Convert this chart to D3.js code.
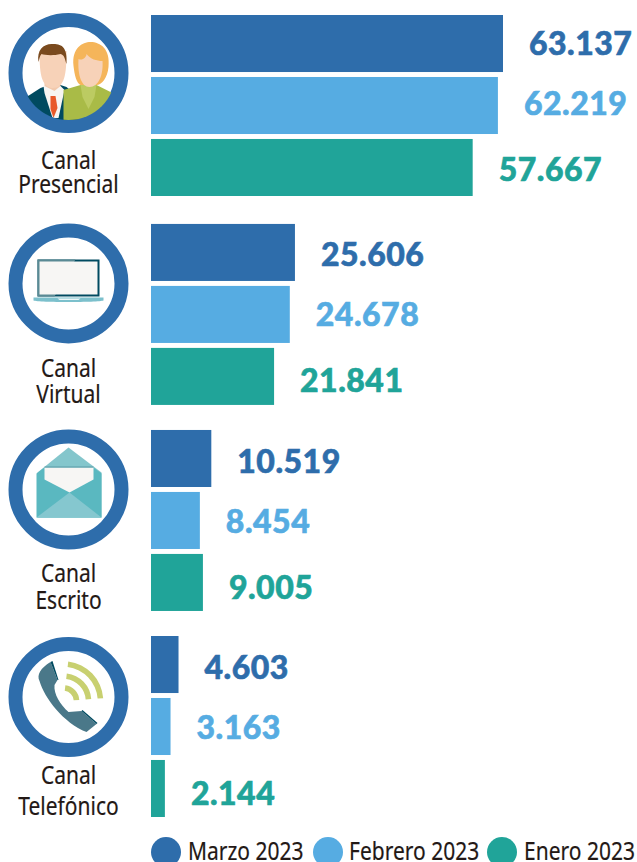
<!DOCTYPE html>
<html>
<head>
<meta charset="utf-8">
<script src="https://cdn.jsdelivr.net/npm/d3@7"></script>
<style>
	html, body { margin: 0; padding: 0; background: #fff; overflow: hidden; }
	svg { display: block; }
	.canal-label, .legend-label { font-family: "Noto Sans", sans-serif; fill: #231815; stroke: #231815; stroke-width: 0.2px; }
	.value-label { font-family: Lato, sans-serif; font-weight: 900; letter-spacing: 0.5px; stroke-width: 0.6px; }
</style>
</head>
<body>
<div id="chart-container"></div>
<script>
var canales = ['Presencial', 'Virtual', 'Escrito', 'Telefónico'];
var meses = ['Marzo 2023', 'Febrero 2023', 'Enero 2023'];
var colores = ['#2e6dab', '#56ace2', '#20a499'];

var marzo = [63137, 25606, 10519, 4603];
var febrero = [62219, 24678, 8454, 3163];
var enero = [57667, 21841, 9005, 2144];

var series = [marzo, febrero, enero];

var svg_width = 637;
var svg_height = 862;
var bar_left = 151;
var narrow = 0.84;

var svg = d3.select('#chart-container')
	.append('svg')
	.attr('width', svg_width)
	.attr('height', svg_height);

var x = d3.scaleLinear()
	.domain([0, 63137])
	.range([bar_left + 2, 503]);

var y_group = d3.scaleBand()
	.domain(canales)
	.range([15, 818])
	.paddingInner(0.127);

var y_bar = d3.scaleBand()
	.domain(meses)
	.range([0, y_group.bandwidth()])
	.paddingInner(0.08);

var format_value = d3.formatLocale({ decimal: ',', thousands: '.', grouping: [3], currency: ['', ''] }).format(',d');

// the printed groups are not evenly spaced, nor the labels on the bar centres
var group_nudge = { 'Presencial': 0, 'Virtual': 1.6, 'Escrito': 0.3, 'Telefónico': -1 };
var value_nudge = { 'Presencial': -0.5, 'Virtual': 2, 'Escrito': 2.5, 'Telefónico': 2.5 };
var icon_nudge = { 'Presencial': -1.5, 'Virtual': 0, 'Escrito': 0, 'Telefónico': 1.5 };
var value_shift = [1, -1, 3];
var label_base = { 'Presencial': [154, 178], 'Virtual': [153, 179], 'Escrito': [152, 179], 'Telefónico': [148, 179] };

function group_top(c) {
	return y_group(c) + group_nudge[c];
}

// bars and values
meses.forEach(function(mes, m) {
	var g = svg.append('g').attr('class', 'serie');
	var rows = canales.map(function(c, i) { return { canal: c, value: series[m][i] }; });

	g.selectAll('rect')
		.data(rows)
		.enter()
		.append('rect')
		.attr('x', bar_left)
		.attr('y', function(d) { return group_top(d.canal) + y_bar(mes); })
		.attr('width', function(d) { return x(d.value) - bar_left; })
		.attr('height', y_bar.bandwidth())
		.attr('fill', colores[m]);

	g.selectAll('text')
		.data(rows)
		.enter()
		.append('text')
		.attr('class', 'value-label')
		.attr('x', function(d) { return x(d.value) + 26; })
		.attr('y', function(d) {
			return group_top(d.canal) + y_bar(mes) + y_bar.bandwidth() / 2 + value_shift[m] + value_nudge[d.canal] + 11;
		})
		.attr('font-size', 32)
		.attr('fill', colores[m])
		.attr('stroke', colores[m])
		.text(function(d) { return format_value(d.value); });
});

// round icons and channel names
var icon_r = 53;
var icon_cx = 68.5;

var defs = svg.append('defs');
defs.append('clipPath').attr('id', 'icon-clip')
	.append('circle').attr('r', icon_r - 6);

var icons = svg.selectAll('.canal')
	.data(canales)
	.enter()
	.append('g')
	.attr('class', 'canal')
	.attr('transform', function(d) { return 'translate(' + icon_cx + ',' + (group_top(d) + 59.5 + icon_nudge[d]) + ')'; });

icons.append('circle')
	.attr('r', icon_r)
	.attr('fill', '#fff')
	.attr('stroke', '#2e6dab')
	.attr('stroke-width', 14);

icons.each(function(d) {
	var g = d3.select(this);
	if (d === 'Presencial') draw_people(g);
	if (d === 'Virtual') draw_laptop(g);
	if (d === 'Escrito') draw_envelope(g);
	if (d === 'Telefónico') draw_phone(g);
});

canales.forEach(function(c) {
	var g = svg.append('g').attr('class', 'canal-name');
	[['Canal', 0], [c, 1]].forEach(function(line) {
		g.append('text')
			.attr('class', 'canal-label')
			.attr('transform', 'translate(' + icon_cx + ',' + (group_top(c) + label_base[c][line[1]]) + ') scale(' + narrow + ',1)')
			.attr('text-anchor', 'middle')
			.attr('font-size', 25)
			.text(line[0]);
	});
});

// legend
var legend_x = [166, 328, 502];
var legend_text_x = [188, 349, 524];

var legend = svg.selectAll('.legend')
	.data(meses)
	.enter()
	.append('g')
	.attr('class', 'legend');

legend.append('circle')
	.attr('cx', function(d, i) { return legend_x[i]; })
	.attr('cy', 852)
	.attr('r', 15)
	.attr('fill', function(d, i) { return colores[i]; });

legend.append('text')
	.attr('class', 'legend-label')
	.attr('transform', function(d, i) { return 'translate(' + legend_text_x[i] + ',860) scale(' + narrow + ',1)'; })
	.attr('font-size', 25)
	.text(function(d) { return d; });

function shape(g, path_d, fill) {
	return g.append('path').attr('d', path_d).attr('fill', fill);
}

function draw_people(g) {
	var c = g.append('g').attr('clip-path', 'url(#icon-clip)');
	// man
	shape(c, 'M-42,24 L-28,15 L-14,10 L-2,14 L10,24 L10,50 L-42,50 Z', '#004a60');
	shape(c, 'M-25,13 L-8,13 L-4,17 L-10,45 L-16,45 L-24,20 Z', '#f7f5f2');
	shape(c, 'M-18,23 L-13,23 L-11,35 L-15,45 L-18,36 Z', '#e8592a');
	shape(c, 'M-24,5 L-8,5 L-8,13 L-14,18 L-24,13 Z', '#f2c9ad');
	shape(c, 'M-29,-22 C-29,-2 -28,14 -16,15 C-4,15 -2,2 -2,-22 Z', '#f7d2b8');
	shape(c, 'M-30,-11 C-32,-24 -24,-30 -15,-29 C-6,-29 -1,-25 -2,-9 C-4,-15 -4,-18 -8,-19 C-16,-17 -24,-18 -27,-19 C-29,-17 -29,-14 -30,-11 Z', '#7a4a1e');
	// woman
	shape(c, 'M-5,17 L12,12 L28,12 L44,20 L44,50 L-5,50 Z', '#a9bb47');
	shape(c, 'M12,12 L28,12 L26,24 L20,36 L14,24 Z', '#bccb62');
	shape(c, 'M5,-7 C3,-25 14,-31 22,-31 C32,-31 42,-24 40,-6 C39,5 33,12 28,12 L12,12 C8,10 6,2 5,-7 Z', '#f5b55a');
	shape(c, 'M10,-14 C14,-12 18,-16 18,-19 C22,-14 28,-12 34,-12 C35,2 30,14 21,14 C13,14 9,2 10,-14 Z', '#f7d2b8');
}

function draw_laptop(g) {
	shape(g, 'M-31,-24 L31,-24 L31,13 L-31,13 Z', '#004a60');
	shape(g, 'M-31,-24 L7,-24 L-14,13 L-31,13 Z', '#5a8a94');
	shape(g, 'M-29,-22 L29,-22 L29,11 L-29,11 Z', '#f7f6f4');
	shape(g, 'M-35,14 L35,14 L35,17 C30,19 -30,19 -35,17 Z', '#7cc0cc');
	shape(g, 'M-11,15 L12,15 L10,16.5 L-9,16.5 Z', '#eef7f8');
}

function draw_envelope(g) {
	shape(g, 'M-31,-17 L0,-42 L33,-17 L33,28 L-31,28 Z', '#84c6cc');
	shape(g, 'M-32,-16 L-24,-22 L25,-22 L33,-16 L33,28 L-32,28 Z', '#5ab8c0');
	shape(g, 'M-24,-22 L25,-22 L25,-10 L1,3 L-24,-10 Z', '#f7f6f4');
	shape(g, 'M-32,28 L1,3 L33,28 Z', '#85c7cf');
	shape(g, 'M-24,-23 L25,-23 L25,-22 L-24,-22 Z', '#5a9aa6');
}

function draw_phone(g) {
	shape(g, 'M-18,-35 C-28,-29 -32,-22 -29,-16 C-24,1 -5,26 18,35 L28,27 L13,14 L0,15 C-8,8 -15,-3 -14,-12 L-11,-17 Z', '#4a7889');
	shape(g, 'M-18,-35 L-16,-36 L-10,-17 L-11,-17 Z', '#004a60');
	shape(g, 'M13,14 L14,13 L29,26 L28,27 Z', '#004a60');
	var arcs = d3.arc().cornerRadius(0);
	[13, 25, 37].forEach(function(r) {
		g.append('path')
			.attr('transform', 'translate(-5,4)')
			.attr('d', arcs({ innerRadius: r - 2.8, outerRadius: r + 2.8, startAngle: 0.12, endAngle: 1.5 }))
			.attr('fill', '#c8d070');
	});
}
</script>
</body>
</html>
